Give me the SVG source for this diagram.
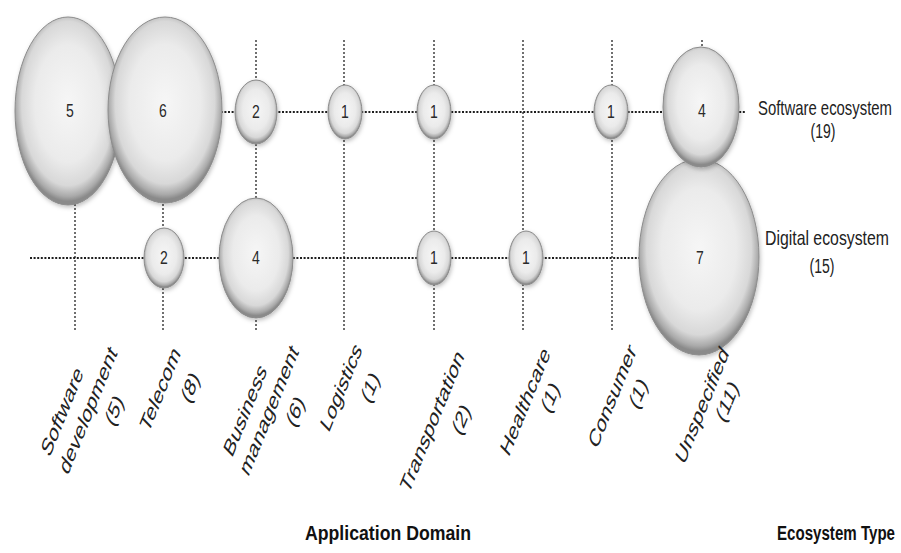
<svg xmlns="http://www.w3.org/2000/svg" width="901" height="553" viewBox="0 0 901 553">
<style>
.hline{stroke:#1e1e1e;stroke-width:2;stroke-dasharray:2 1.6;fill:none}
.vline{stroke:#333;stroke-width:1.4;stroke-dasharray:2 2;fill:none}
.bub{fill:url(#bg);stroke:#8c8c8c;stroke-width:1;filter:url(#sh)}
.num{font-family:"Liberation Sans",Arial,sans-serif;font-size:14px;fill:#2a2a2a;text-anchor:middle}
.lab{font-family:"Liberation Sans",Arial,sans-serif;font-size:16px;fill:#222;text-anchor:middle}
.eco{font-family:"Liberation Sans",Arial,sans-serif;font-size:14px;fill:#222;text-anchor:middle}
.ttl{font-family:"Liberation Sans",Arial,sans-serif;font-size:15px;font-weight:bold;fill:#111;text-anchor:middle}
</style>
<defs>
<radialGradient id="bg" cx="50%" cy="46%" r="52%">
<stop offset="0" stop-color="#f6f6f6"/>
<stop offset="0.6" stop-color="#ebebeb"/>
<stop offset="0.84" stop-color="#d8d8d8"/>
<stop offset="0.95" stop-color="#aaaaaa"/>
<stop offset="1" stop-color="#8a8a8a"/>
</radialGradient>
<filter id="sh" x="-15%" y="-15%" width="135%" height="135%">
<feDropShadow dx="1" dy="2" stdDeviation="2" flood-color="#000" flood-opacity="0.25"/>
</filter>
</defs>
<rect width="901" height="553" fill="#fff"/>
<g id="connectors">
<line class="vline" x1="75" y1="40" x2="75" y2="332"/>
<line class="vline" x1="163" y1="40" x2="163" y2="332"/>
<line class="vline" x1="256" y1="40" x2="256" y2="332"/>
<line class="vline" x1="344" y1="40" x2="344" y2="332"/>
<line class="vline" x1="434" y1="40" x2="434" y2="332"/>
<line class="vline" x1="523" y1="40" x2="523" y2="332"/>
<line class="vline" x1="612" y1="40" x2="612" y2="332"/>
<line class="vline" x1="702" y1="40" x2="702" y2="332"/>
<line class="hline" x1="30" y1="112" x2="746" y2="112"/>
<line class="hline" x1="30" y1="258" x2="640" y2="258"/>
</g>
<g id="n-sw-softdev"><ellipse class="bub" cx="68" cy="111" rx="53" ry="94"/><text class="num" transform="translate(70,117) scale(1,1.35)">5</text></g>
<g id="n-sw-telecom"><ellipse class="bub" cx="165" cy="110" rx="57" ry="93"/><text class="num" transform="translate(163,117) scale(1,1.35)">6</text></g>
<g id="n-sw-business"><ellipse class="bub" cx="256" cy="112" rx="21" ry="32"/><text class="num" transform="translate(256,118) scale(1,1.35)">2</text></g>
<g id="n-sw-logistics"><ellipse class="bub" cx="345" cy="112" rx="17" ry="27"/><text class="num" transform="translate(345,118) scale(1,1.35)">1</text></g>
<g id="n-sw-transport"><ellipse class="bub" cx="434" cy="112" rx="17" ry="27"/><text class="num" transform="translate(434,118) scale(1,1.35)">1</text></g>
<g id="n-sw-consumer"><ellipse class="bub" cx="611" cy="112" rx="17" ry="27"/><text class="num" transform="translate(611,118) scale(1,1.35)">1</text></g>
<g id="n-dg-telecom"><ellipse class="bub" cx="164" cy="258" rx="20" ry="30"/><text class="num" transform="translate(164,264) scale(1,1.35)">2</text></g>
<g id="n-dg-business"><ellipse class="bub" cx="256" cy="258" rx="37" ry="60"/><text class="num" transform="translate(256,264) scale(1,1.35)">4</text></g>
<g id="n-dg-transport"><ellipse class="bub" cx="434" cy="258" rx="17" ry="27"/><text class="num" transform="translate(434,264) scale(1,1.35)">1</text></g>
<g id="n-dg-healthcare"><ellipse class="bub" cx="526" cy="258" rx="17" ry="27"/><text class="num" transform="translate(526,264) scale(1,1.35)">1</text></g>
<g id="n-dg-unspecified"><ellipse class="bub" cx="699" cy="257" rx="60" ry="98"/><text class="num" transform="translate(700,264) scale(1,1.35)">7</text></g>
<g id="n-sw-unspecified"><ellipse class="bub" cx="701" cy="107" rx="38" ry="60"/><text class="num" transform="translate(702,117) scale(1,1.35)">4</text></g>
<g id="domain-labels">
<text class="lab" dy="0.35em" transform="translate(62,411) scale(1,1.6) rotate(-57)">Software</text>
<text class="lab" dy="0.35em" transform="translate(88,410) scale(1,1.6) rotate(-57)">development</text>
<text class="lab" dy="0.35em" transform="translate(114,410) scale(1,1.6) rotate(-57)">(5)</text>
<text class="lab" dy="0.35em" transform="translate(160,389) scale(1,1.6) rotate(-57)">Telecom</text>
<text class="lab" dy="0.35em" transform="translate(190,387) scale(1,1.6) rotate(-57)">(8)</text>
<text class="lab" dy="0.35em" transform="translate(245,410) scale(1,1.6) rotate(-57)">Business</text>
<text class="lab" dy="0.35em" transform="translate(269,410) scale(1,1.6) rotate(-57)">management</text>
<text class="lab" dy="0.35em" transform="translate(295,411) scale(1,1.6) rotate(-57)">(6)</text>
<text class="lab" dy="0.35em" transform="translate(341,387) scale(1,1.6) rotate(-57)">Logistics</text>
<text class="lab" dy="0.35em" transform="translate(370,387) scale(1,1.6) rotate(-57)">(1)</text>
<text class="lab" dy="0.35em" transform="translate(432,421) scale(1,1.6) rotate(-57)">Transportation</text>
<text class="lab" dy="0.35em" transform="translate(461,419) scale(1,1.6) rotate(-57)">(2)</text>
<text class="lab" dy="0.35em" transform="translate(525,401) scale(1,1.6) rotate(-57)">Healthcare</text>
<text class="lab" dy="0.35em" transform="translate(550,397) scale(1,1.6) rotate(-57)">(1)</text>
<text class="lab" dy="0.35em" transform="translate(612,396) scale(1,1.6) rotate(-57)">Consumer</text>
<text class="lab" dy="0.35em" transform="translate(638,393) scale(1,1.6) rotate(-57)">(1)</text>
<text class="lab" dy="0.35em" transform="translate(702,405) scale(1,1.6) rotate(-57)">Unspecified</text>
<text class="lab" dy="0.35em" transform="translate(727,401) scale(1,1.6) rotate(-57)">(11)</text>
</g>
<g id="ecosystem-labels">
<text class="eco" transform="translate(825,115) scale(1,1.4)" textLength="134" lengthAdjust="spacingAndGlyphs">Software ecosystem</text>
<text class="eco" transform="translate(823,138) scale(1,1.4)">(19)</text>
<text class="eco" transform="translate(827,245) scale(1,1.4)" textLength="124" lengthAdjust="spacingAndGlyphs">Digital ecosystem</text>
<text class="eco" transform="translate(822,273) scale(1,1.4)">(15)</text>
</g>
<g id="axis-titles">
<text class="ttl" transform="translate(388,540) scale(1,1.35)" textLength="166" lengthAdjust="spacingAndGlyphs">Application Domain</text>
<text class="ttl" transform="translate(836,540) scale(1,1.35)" textLength="118" lengthAdjust="spacingAndGlyphs">Ecosystem Type</text>
</g>
</svg>
